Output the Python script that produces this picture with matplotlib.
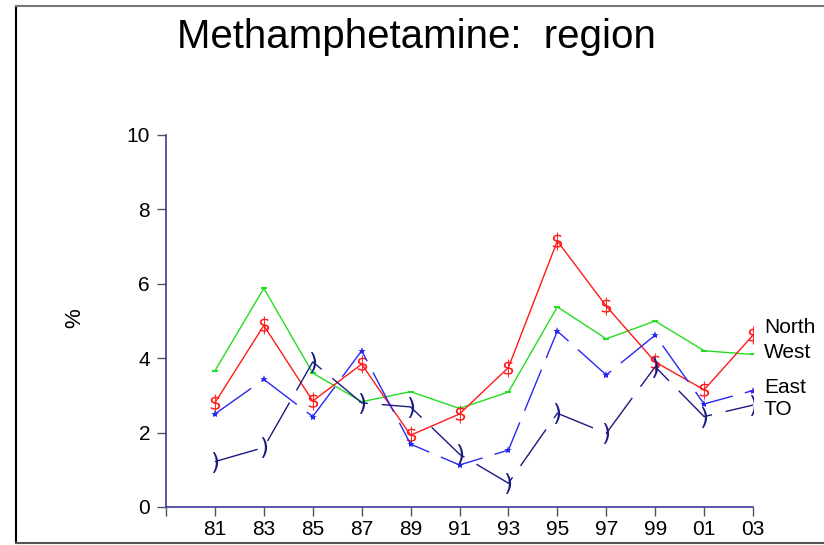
import matplotlib as mpl
import matplotlib.pyplot as plt
from matplotlib.lines import Line2D

plt.rc('font', family = 'Liberation Sans')
mpl.rcParams['axes.unicode_minus'] = False

years = [1981, 1983, 1985, 1987, 1989, 1991, 1993, 1995, 1997, 1999, 2001, 2003]
north = [2.8, 4.88, 2.85, 3.84, 1.93, 2.5, 3.75, 7.15, 5.4, 3.9, 3.15, 4.62]
west = [3.66, 5.88, 3.6, 2.83, 3.1, 2.65, 3.09, 5.38, 4.52, 5.0, 4.2, 4.1]
east = [2.5, 3.43, 2.43, 4.2, 1.69, 1.13, 1.53, 4.73, 3.55, 4.62, 2.77, 3.13]
to = [1.22, 1.6, 3.9, 2.8, 2.69, 1.42, 0.64, 2.52, 1.98, 3.77, 2.43, 2.74]

fig = plt.figure(figsize = (8.24, 5.45), dpi = 100)
ax = fig.add_axes([166 / 824, 1 - 507 / 545, (753 - 166) / 824, (507 - 135) / 545])

ax.plot(years, west, color = '#22dd22', lw = 1, marker = '_', ms = 5, mew = 1.5)
ax.plot(years, north, color = '#ff1a1a', lw = 1, marker = r'$\$$', ms = 13, mew = 0)
ax.plot(years, east, color = '#2828f0', lw = 1, dashes = (32, 9), marker = '*', ms = 6, mew = 0)
ax.plot(years, to, color = '#1a1a80', lw = 1, dashes = (32, 10), marker = r'$)$', ms = 15, mew = 0)

# end-of-line labels
labels = ['North', 'West', 'East', 'TO']
series = [north, west, east, to]
offsets = [8, 2, 3, -4]
for lab, s, dy in zip(labels, series, offsets):
    ax.annotate(lab, xy = (years[-1], s[-1]), xytext = (11, dy), textcoords = 'offset pixels',
                ha = 'left', va = 'center', fontsize = 15, annotation_clip = False)

ax.set_xlim(1979, 2003)
ax.set_ylim(0, 10)
xt = list(range(1979, 2004, 2))
ax.set_xticks(xt)
ax.set_xticklabels([''] + [str(y)[2:] for y in xt[1:]])
ax.set_yticks([0, 2, 4, 6, 8, 10])
ax.tick_params(axis = 'both', labelsize = 15, length = 6.5, width = 1, color = '#555555', direction = 'out')
ax.tick_params(axis = 'x', pad = 3)
ax.tick_params(axis = 'y', pad = 5)

for sp in ['top', 'right']:
    ax.spines[sp].set_visible(False)
for sp in ['left', 'bottom']:
    ax.spines[sp].set_color('#3a3aa0')
    ax.spines[sp].set_linewidth(1.2)

fig.text(0.505, 1 - 48 / 545, 'Methamphetamine:  region', ha = 'center', va = 'baseline', fontsize = 29)
fig.text(75 / 824, 1 - 318 / 545, '%', rotation = 90, ha = 'center', va = 'center', fontsize = 16)

# page frame
fig.add_artist(Line2D([16 / 824, 16 / 824], [1 - 6 / 545, 1 - 543 / 545], transform = fig.transFigure, color = 'black', lw = 1.5))
fig.add_artist(Line2D([16 / 824, 1], [1 - 6 / 545, 1 - 6 / 545], transform = fig.transFigure, color = '#777777', lw = 1.5))
fig.add_artist(Line2D([16 / 824, 1], [1 - 543 / 545, 1 - 543 / 545], transform = fig.transFigure, color = '#555555', lw = 1.5))

plt.savefig('out.png', dpi = 100)
